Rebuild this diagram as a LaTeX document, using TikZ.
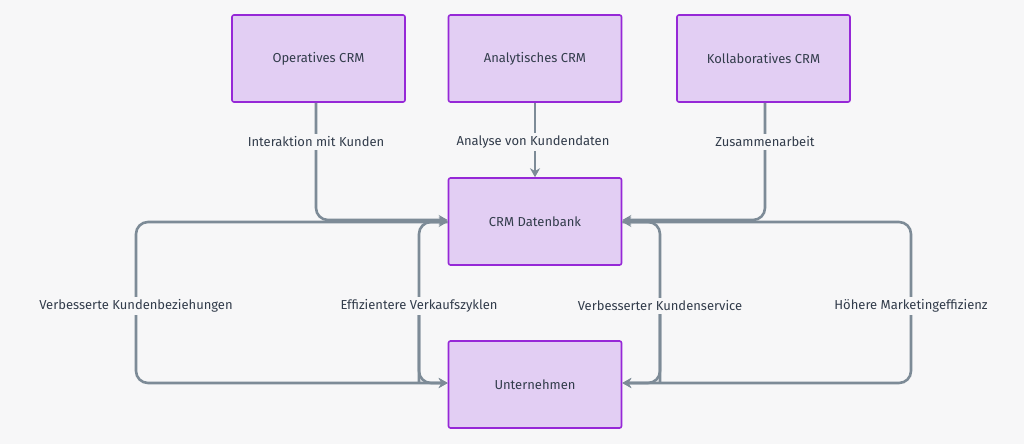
\documentclass[tikz,border=0pt]{standalone}
\usepackage{fontspec}
\setmainfont{Fira Sans}
\usetikzlibrary{arrows.meta}
\definecolor{bg}{RGB}{247,247,248}
\definecolor{boxfill}{RGB}{226,206,243}
\definecolor{boxline}{RGB}{150,40,215}
\definecolor{lncol}{RGB}{125,139,151}
\definecolor{txt}{RGB}{50,60,75}
\begin{document}
\begin{tikzpicture}[x=1pt,y=-1pt,
  box/.style={draw=boxline, fill=boxfill, line width=1.6pt, rounded corners=2pt, minimum width=173pt, minimum height=87pt, font=\fontsize{13}{15}\selectfont, text=txt},
  conn/.style={draw=lncol, line width=2.6pt, rounded corners=12pt},
  arr/.style={conn, -{Stealth[length=9pt,width=10pt]}},
  lbl/.style={fill=bg, font=\fontsize{13}{15}\selectfont, text=txt, inner sep=3pt}]
\fill[bg] (0,0) rectangle (1024,444);
\useasboundingbox (0,0) rectangle (1024,444);
\node[box] (op) at (318.5,58.5) {Operatives CRM};
\node[box] (an) at (535,58.5) {Analytisches CRM};
\node[box] (ko) at (763.5,58.5) {Kollaboratives CRM};
\node[box] (db) at (535,221.5) {CRM Datenbank};
\node[box] (un) at (535,384.5) {Unternehmen};
\draw[arr] (op.south -| 316,0) |- (db.west |- 0,220);
\draw[arr] (an.south) -- (db.north);
\draw[arr] (ko.south -| 765,0) |- (db.east |- 0,220);
\draw[arr] (db.west |- 0,222) -| (136,383) -- (un.west |- 0,383);
\draw[arr] (419,383) -- (419,222) -- (db.west |- 0,222);
\draw[arr] (419,300) |- (un.west |- 0,383);
\draw[arr] (db.east |- 0,222) -| (911,383) -- (un.east |- 0,383);
\draw[arr] (660,383) -- (660,222) -- (db.east |- 0,222);
\draw[arr] (660,300) |- (un.east |- 0,383);
\node[lbl] (t1) at (316,142) {Interaktion mit Kunden};
\node[lbl] (t2) at (533,142) {Analyse von Kundendaten};
\node[lbl] (t3) at (765,142) {Zusammenarbeit};
\node[lbl] (t4) at (136,306) {Verbesserte Kundenbeziehungen};
\node[lbl] (t5) at (419,306) {Effizientere Verkaufszyklen};
\node[lbl] (t6) at (660,306) {Verbesserter Kundenservice};
\node[lbl] (t7) at (911,306) {Höhere Marketingeffizienz};
\end{tikzpicture}
\end{document}
